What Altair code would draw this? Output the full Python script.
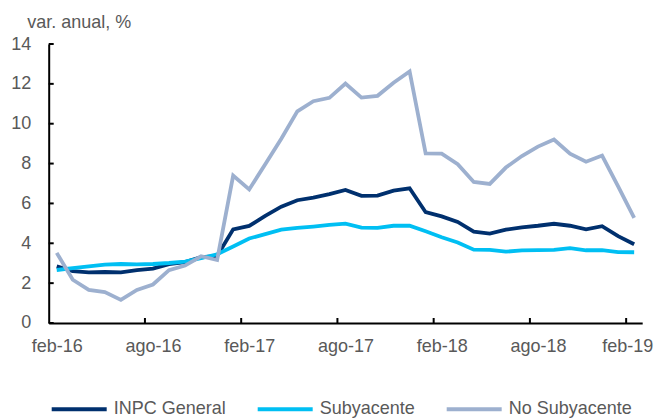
import altair as alt
import pandas as pd

months = ["feb-16", "mar-16", "abr-16", "may-16", "jun-16", "jul-16", "ago-16", "sep-16", "oct-16", "nov-16", "dic-16",
          "ene-17", "feb-17", "mar-17", "abr-17", "may-17", "jun-17", "jul-17", "ago-17", "sep-17", "oct-17", "nov-17", "dic-17",
          "ene-18", "feb-18", "mar-18", "abr-18", "may-18", "jun-18", "jul-18", "ago-18", "sep-18", "oct-18", "nov-18", "dic-18",
          "ene-19", "feb-19"]

inpc_general = [2.84, 2.60, 2.54, 2.56, 2.54, 2.65, 2.73, 2.95, 3.06, 3.30, 3.36,
                4.70, 4.87, 5.38, 5.84, 6.16, 6.29, 6.47, 6.68, 6.38, 6.39, 6.64, 6.76,
                5.56, 5.35, 5.07, 4.58, 4.49, 4.68, 4.80, 4.88, 4.98, 4.88, 4.70, 4.86,
                4.36, 3.95]
subyacente = [2.66, 2.75, 2.84, 2.93, 2.96, 2.94, 2.96, 3.01, 3.08, 3.25, 3.45,
              3.84, 4.24, 4.46, 4.68, 4.77, 4.84, 4.92, 4.99, 4.79, 4.77, 4.88, 4.88,
              4.60, 4.30, 4.04, 3.68, 3.67, 3.58, 3.64, 3.66, 3.67, 3.76, 3.65, 3.66,
              3.56, 3.55]
no_subyacente = [3.52, 2.17, 1.66, 1.55, 1.16, 1.66, 1.93, 2.65, 2.88, 3.35, 3.16,
                 7.40, 6.70, 7.97, 9.25, 10.62, 11.13, 11.30, 12.02, 11.31, 11.40, 12.06, 12.62,
                 8.51, 8.50, 7.97, 7.08, 6.98, 7.80, 8.38, 8.85, 9.21, 8.50, 8.09, 8.40,
                 6.85, 5.27]

series_names = ["INPC General", "Subyacente", "No Subyacente"]
series_colors = ["#00306E", "#00BFF3", "#9DB0CF"]
x_label_values = [0, 6, 12, 18, 24, 30, 36]
y_tick_values = [0, 2, 4, 6, 8, 10, 12, 14]
x_tick_bounds = [5.5, 11.5, 17.5, 23.5, 29.5, 35.5]
y_title = "var. anual, %"

W, H = 593.5, 279
TXT = "#595959"
FONT = "Liberation Sans"

rows = []
for name, vals in zip(series_names, [inpc_general, subyacente, no_subyacente]):
    for i, v in enumerate(vals):
        rows.append({"idx": i, "mes": months[i], "serie": name, "valor": v})
df = pd.DataFrame(rows)

label_expr = "[" + ",".join("'%s'" % m for m in months) + "][datum.value]"

xscale = alt.Scale(domain=[-0.5, 36.5], nice=False, zero=False)
yscale = alt.Scale(domain=[0, 14], nice=False)
cscale = alt.Scale(domain=series_names, range=series_colors)

xaxis = alt.Axis(values=x_label_values, labelExpr=label_expr, ticks=False, grid=False,
                 domainColor="black", domainWidth=2, labelColor=TXT, labelFontSize=18,
                 labelFont=FONT, labelPadding=15, title=None, labelFlush=False,
                 labelOffset={"condition": {"test": "datum.value == 36", "value": -7}, "value": 0})
yaxis = alt.Axis(values=y_tick_values, ticks=False, grid=False, domainColor="black",
                 domainWidth=2, labelColor=TXT, labelFontSize=18, labelFont=FONT,
                 labelPadding=18, title=None)

legend = alt.Legend(orient="none", legendX=1, legendY=335.5, direction="horizontal",
                    title=None, symbolType="stroke", symbolSize=3025, symbolStrokeWidth=4,
                    labelFontSize=18, labelFont=FONT, labelColor=TXT, labelOffset=5,
                    columnPadding=23, padding=0, labelLimit=300)

layers = []
for k, name in enumerate(series_names):
    layers.append(
        alt.Chart(df[df["serie"] == name]).mark_line(strokeWidth=3.8, strokeJoin="miter").encode(
            x=alt.X("idx:Q", scale=xscale, axis=xaxis),
            y=alt.Y("valor:Q", scale=yscale, axis=yaxis),
            color=alt.Color("serie:N", scale=cscale, legend=legend),
        )
    )

ytick_df = pd.DataFrame({"v": y_tick_values})
yticks = alt.Chart(ytick_df).mark_rule(color="black", strokeWidth=2).encode(
    y=alt.Y("v:Q", scale=yscale, axis=yaxis),
    x=alt.value(0), x2=alt.value(5),
)
xtick_df = pd.DataFrame({"b": x_tick_bounds})
xticks = alt.Chart(xtick_df).mark_rule(color="black", strokeWidth=2).encode(
    x=alt.X("b:Q", scale=xscale, axis=xaxis),
    y=alt.value(H), y2=alt.value(H - 5),
)

title_df = pd.DataFrame({"t": [y_title]})
title_txt = alt.Chart(title_df).mark_text(align="left", baseline="alphabetic", fontSize=18,
                                           font=FONT, color=TXT).encode(
    text="t:N", x=alt.value(-21.5), y=alt.value(-16),
)

chart = alt.layer(*layers, yticks, xticks, title_txt).properties(
    width=W, height=H,
    autosize=alt.AutoSizeParams(type="none"),
    padding={"left": 40.7, "top": 36, "right": 11.5, "bottom": 96},
).configure_view(stroke=None)

chart.save("out.html", embed_options={"renderer": "svg", "actions": False})
